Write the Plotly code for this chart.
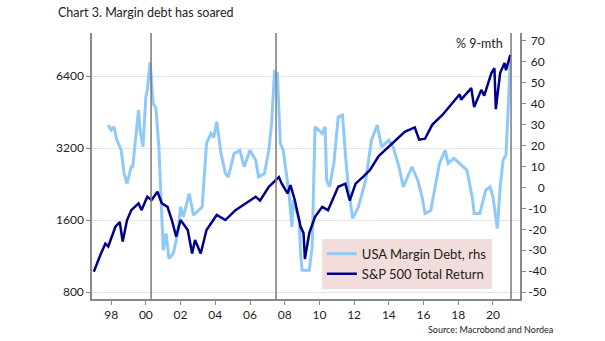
import plotly.graph_objects as go

# ---------------- data ----------------
sp_dates = ["1997-01","1997-04","1997-06","1997-09","1997-11","1998-04","1998-07","1998-09","1998-12",
            "1999-03","1999-08","1999-10","2000-02","2000-05","2000-09","2000-12","2001-04","2001-07",
            "2001-10","2002-01","2002-06","2002-09","2002-11","2003-03","2003-07","2004-02","2004-08",
            "2005-03","2005-10","2006-05","2006-08","2007-02","2007-09","2007-11","2008-03","2008-05",
            "2008-08","2008-12","2009-02","2009-03","2009-06","2009-10","2010-03","2010-07","2011-02",
            "2011-07","2011-10","2012-02","2012-07","2012-12","2013-06","2014-01","2014-06","2014-12",
            "2015-07","2015-10","2016-02","2016-07","2017-02","2017-09","2018-02","2018-03","2018-10",
            "2018-12","2019-05","2019-07","2019-12","2020-02","2020-03","2020-06","2020-09","2020-10",
            "2021-01"]
sp_values = [973,1088,1160,1275,1240,1500,1570,1300,1600,
             1760,1880,1760,2003,1940,2100,1880,1816,1600,
             1363,1600,1453,1160,1320,1160,1453,1680,1600,
             1760,1880,2003,1930,2204,2420,2270,2066,2240,
             1940,1500,1410,1100,1410,1650,1816,1760,2204,
             2270,1930,2270,2420,2590,2960,3250,3467,3740,
             3900,3467,3500,4000,4400,4930,5370,5100,5700,
             4750,5600,5300,6600,6900,4650,6600,7250,6770,
             7850]

md_dates = ["1997-11","1998-01","1998-03","1998-05","1998-08","1998-10","1998-12","1999-03","1999-04",
            "1999-08","1999-09","1999-11","2000-01","2000-02","2000-04","2000-06","2000-08","2000-10",
            "2001-01","2001-03","2001-05","2001-08","2001-11","2002-01","2002-03","2002-07","2002-10",
            "2003-04","2003-07","2003-10","2003-12","2004-02","2004-05","2004-08","2004-10","2005-02",
            "2005-06","2005-09","2006-01","2006-05","2006-07","2006-11","2007-02","2007-04","2007-06",
            "2007-08","2007-10","2007-12","2008-04","2008-06","2008-07","2008-11","2008-12","2009-01",
            "2009-06","2009-08","2009-10","2010-03","2010-05","2010-06","2010-08","2010-11","2011-02",
            "2011-05","2011-07","2011-09","2011-12","2012-04","2012-09","2013-01","2013-05","2013-08",
            "2014-01","2014-04","2014-08","2014-11","2015-05","2015-09","2015-12","2016-02","2016-06",
            "2016-09","2016-12","2017-04","2017-06","2017-10","2018-04","2018-07","2018-11","2018-12",
            "2019-04","2019-08","2019-11","2020-01","2020-04","2020-06","2020-08","2020-10","2020-11",
            "2021-01"]
md_values = [29.8,27.4,29,22.6,17.8,6.7,1.9,9.9,9.9,
             37,27.4,19.4,43.4,46.6,60,40.2,37.8,19.4,
             -30,-22,-34,-31.6,-22,-9.3,-14,-2.9,-13.3,
             -9.3,21,25.8,24,31.4,16.2,6.7,5,16.2,
             17.8,9.9,17.8,13,5.1,6.7,17.8,30.6,55.3,
             54.5,21,17.8,-2.9,-18.8,-6,-15.6,-31.6,-39.6,
             -39.6,-28.4,29,25.8,29,3.5,0.3,11.5,33.8,
             34.6,16.2,0.3,-14.8,-9.3,3.5,22.6,29.8,19.4,
             22.6,19.4,9.9,0.3,9.9,3.5,-4.5,-12.4,-11,
             0.3,11.5,17.8,11.5,13.9,9.9,8.3,-6,-12.4,
             -12.4,-1.3,0.3,-4.5,-19.6,0.3,13,15.5,30.6,
             61]

x_tick_vals = ["1998-01-01","2000-01-01","2002-01-01","2004-01-01","2006-01-01","2008-01-01",
               "2010-01-01","2012-01-01","2014-01-01","2016-01-01","2018-01-01","2020-01-01"]
x_tick_text = ["98","00","02","04","06","08","10","12","14","16","18","20"]
left_ticks = [800, 1600, 3200, 6400]
right_ticks = list(range(-50, 71, 10))
right_tick_text = [("\u2008" if v >= 10 else ("\u2007\u2008" if v == 0 else "")) + (str(v) if v >= 0 else "-" + str(-v)) for v in right_ticks]
event_dates = ["2000-04-20", "2007-07-03", "2021-01-15"]

LIGHT = "#8fc9f9"
NAVY = "#00008c"
FONT = "Lato"

fig = go.Figure()
fig.add_trace(go.Scatter(x=md_dates, y=md_values, name="USA Margin Debt, rhs",
                         mode="lines", line=dict(color=LIGHT, width=3), yaxis="y"))
fig.add_trace(go.Scatter(x=sp_dates, y=sp_values, name="S&P 500 Total Return",
                         mode="lines", line=dict(color=NAVY, width=2.5), yaxis="y2"))

for d in event_dates:
    fig.add_shape(type="line", xref="x", yref="paper", x0=d, x1=d, y0=0, y1=1,
                  line=dict(color="#7a7a7a", width=1.5), layer="above")

fig.update_layout(
    width=605, height=341,
    margin=dict(l=92, r=85, t=33, b=42),
    paper_bgcolor="white", plot_bgcolor="white",
    font=dict(family=FONT, size=12, color="#222222"),
    title=dict(text="Chart 3. Margin debt has soared", x=58/605, xanchor="left",
               y=1 - 13/341, yanchor="middle", font=dict(family=FONT, size=12.5, color="#222222")),
    xaxis=dict(type="date", range=["1996-11-24", "2021-07-23"],
               tickmode="array", tickvals=x_tick_vals, ticktext=x_tick_text,
               ticks="outside", ticklen=4, tickcolor="#888888",
               showline=True, linecolor="#888888", linewidth=1.5, showgrid=False,
               tickfont=dict(size=12, color="#222222")),
    yaxis=dict(side="right", range=[-53.3, 73.8], tickmode="array", tickvals=right_ticks,
               ticktext=right_tick_text,
               ticks="outside", ticklen=4, tickcolor="#888888",
               showline=True, linecolor="#888888", linewidth=1.5, showgrid=False, zeroline=False,
               tickfont=dict(size=12, color="#222222")),
    yaxis2=dict(type="log", overlaying="y", side="left", anchor="x",
                range=[2.874, 3.986], tickmode="array", tickvals=left_ticks,
                ticktext=[str(v) for v in left_ticks],
                ticks="outside", ticklen=4, tickcolor="#888888",
                showline=True, linecolor="#888888", linewidth=1.5,
                showgrid=True, gridcolor="#e6e6e6", gridwidth=1,
                tickfont=dict(size=12, color="#222222")),
    legend=dict(x=0.537, y=0.226, xanchor="left", yanchor="top",
                bgcolor="#f3dcdc", font=dict(family=FONT, size=13, color="#222222"),
                tracegroupgap=0, itemwidth=30),
    showlegend=True,
)

fig.add_annotation(text="% 9-mth", xref="paper", yref="paper", x=0.965, y=0.959,
                   xanchor="right", yanchor="middle", showarrow=False,
                   font=dict(family=FONT, size=12.5, color="#222222"))
fig.add_annotation(text="Source: Macrobond and Nordea", xref="paper", yref="paper",
                   x=(555 - 92) / 428, y=-0.113, xanchor="right", yanchor="middle",
                   showarrow=False, font=dict(family=FONT, size=9, color="#222222"))

fig.write_html("out.html")
